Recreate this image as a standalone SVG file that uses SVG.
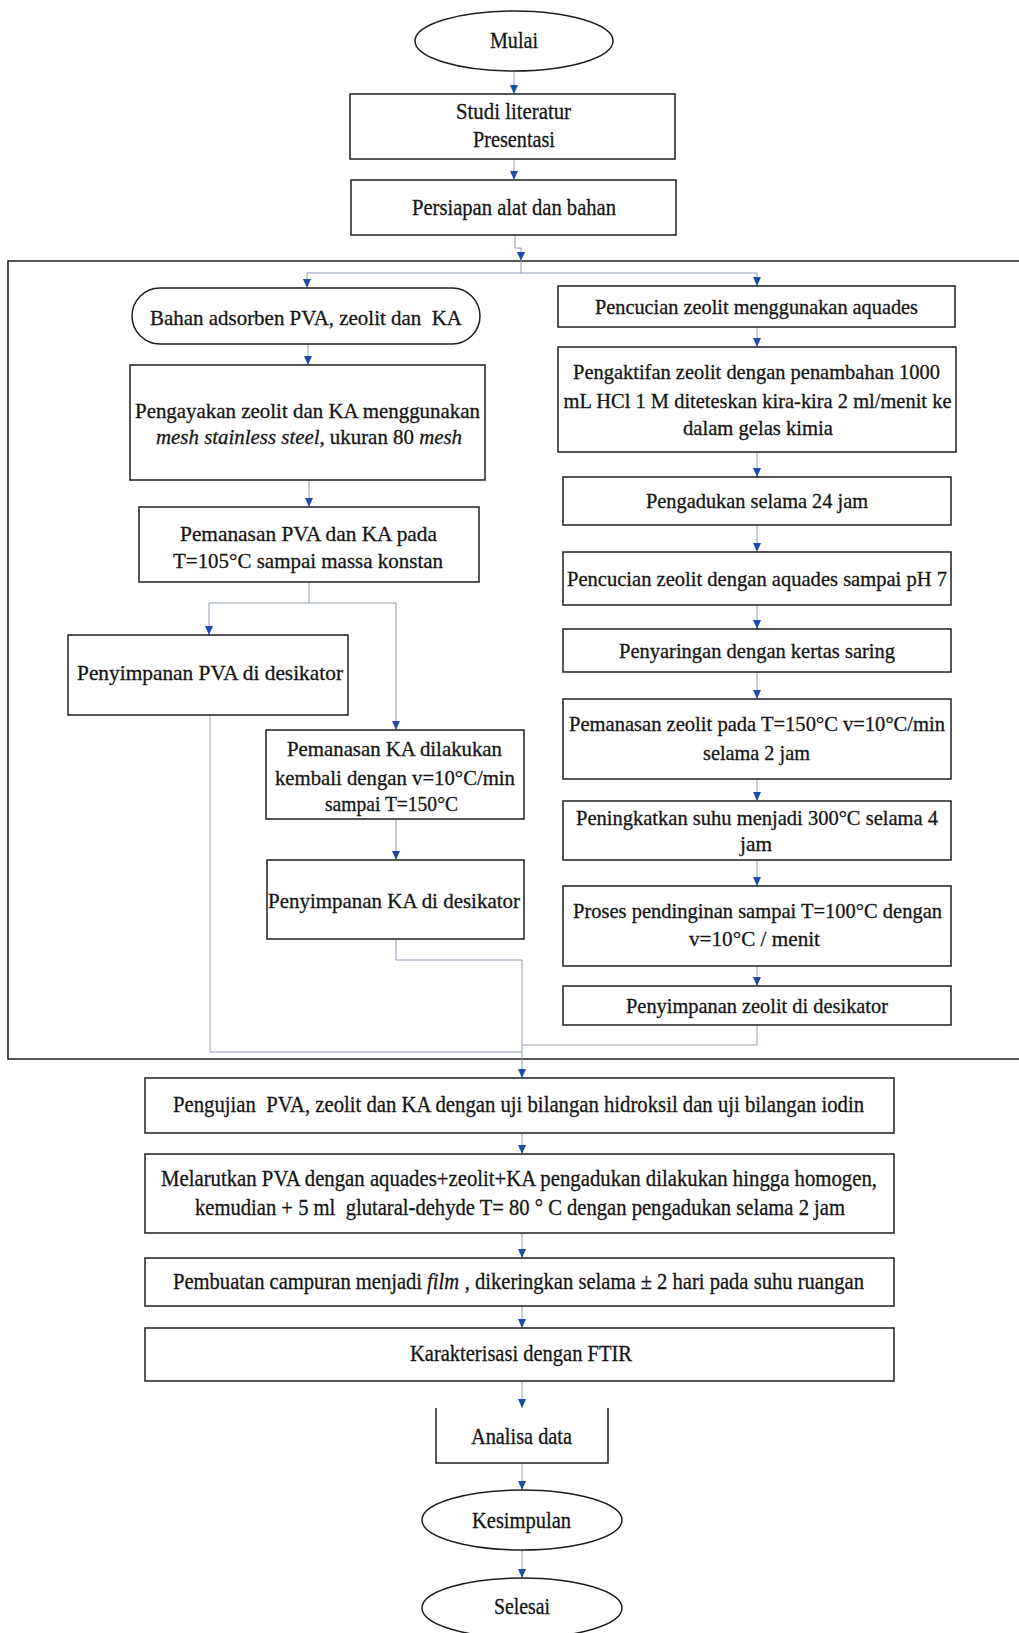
<svg xmlns="http://www.w3.org/2000/svg" width="1019" height="1633" viewBox="0 0 1019 1633">
<style>
.box{fill:none;stroke:#1e1e1e;stroke-width:1.5}
.frame{fill:none;stroke:#1e1e1e;stroke-width:1.6}
.c{fill:none;stroke:#8e9bb3;stroke-width:1}
.t{font-family:"Liberation Serif","Times New Roman",serif;font-size:22px;fill:#141414;stroke:#141414;stroke-width:0.3;text-anchor:middle;dominant-baseline:central;white-space:pre}
.big{font-size:23.5px}
.s{text-anchor:start}
.i{font-style:italic}
</style>
<defs>
<marker id="ah" markerUnits="userSpaceOnUse" markerWidth="10" markerHeight="10" refX="9" refY="4.5" orient="auto">
<path d="M0,0.5 L9,4.5 L0,8.5 z" fill="#1f4aa5"/>
</marker>
</defs>
<rect width="1019" height="1633" fill="#ffffff"/>
<path class="frame" d="M1019,261 L8,261 L8,1059 L1019,1059"/>

<g id="connectors">
<path class="c" d="M514,71 L514,94" marker-end="url(#ah)"/>
<path class="c" d="M514,159 L514,180" marker-end="url(#ah)"/>
<path class="c" d="M515,235 L515,248 L521,248 L521,261" marker-end="url(#ah)"/>
<path class="c" d="M521,261 L521,273"/>
<path class="c" d="M307,273 L757,273"/>
<path class="c" d="M307,273 L307,288" marker-end="url(#ah)"/>
<path class="c" d="M757,273 L757,286" marker-end="url(#ah)"/>
<path class="c" d="M308,344 L308,365" marker-end="url(#ah)"/>
<path class="c" d="M309,480 L309,507" marker-end="url(#ah)"/>
<path class="c" d="M309,582 L309,603 M209,603 L396,603"/>
<path class="c" d="M209,603 L209,635" marker-end="url(#ah)"/>
<path class="c" d="M396,603 L396,730" marker-end="url(#ah)"/>
<path class="c" d="M396,819 L396,860" marker-end="url(#ah)"/>
<path class="c" d="M396,939 L396,960 L522,960 L522,1060"/>
<path class="c" d="M210,715 L210,1052 L522,1052"/>
<path class="c" d="M757,1025 L757,1045 L522,1045"/>
<path class="c" d="M522,1060 L522,1078" marker-end="url(#ah)"/>
<path class="c" d="M757,327 L757,347" marker-end="url(#ah)"/>
<path class="c" d="M757,452 L757,477" marker-end="url(#ah)"/>
<path class="c" d="M757,525 L757,552" marker-end="url(#ah)"/>
<path class="c" d="M757,605 L757,629" marker-end="url(#ah)"/>
<path class="c" d="M757,672 L757,699" marker-end="url(#ah)"/>
<path class="c" d="M757,779 L757,801" marker-end="url(#ah)"/>
<path class="c" d="M757,860 L757,886" marker-end="url(#ah)"/>
<path class="c" d="M757,966 L757,986" marker-end="url(#ah)"/>
<path class="c" d="M522,1133 L522,1154" marker-end="url(#ah)"/>
<path class="c" d="M522,1233 L522,1258" marker-end="url(#ah)"/>
<path class="c" d="M522,1306 L522,1328" marker-end="url(#ah)"/>
<path class="c" d="M522,1381 L522,1408" marker-end="url(#ah)"/>
<path class="c" d="M522,1463 L522,1490" marker-end="url(#ah)"/>
<path class="c" d="M522,1550 L522,1578" marker-end="url(#ah)"/>
</g>

<g id="mulai"><ellipse class="box" cx="514" cy="41" rx="99" ry="30"/><text class="t big" x="514" y="40" textLength="48" lengthAdjust="spacingAndGlyphs">Mulai</text></g>
<g id="studi"><rect class="box" x="350" y="94" width="325" height="65"/><text class="t big" x="513.5" y="111" textLength="115" lengthAdjust="spacingAndGlyphs">Studi literatur</text><text class="t big" x="514" y="139" textLength="82" lengthAdjust="spacingAndGlyphs">Presentasi</text></g>
<g id="persiapan"><rect class="box" x="351" y="180" width="325" height="55"/><text class="t big" x="514" y="207" textLength="204" lengthAdjust="spacingAndGlyphs">Persiapan alat dan bahan</text></g>

<g id="bahan"><rect class="box" x="132" y="288" width="348" height="56" rx="28"/><text class="t" x="306" y="317" textLength="312" lengthAdjust="spacingAndGlyphs">Bahan adsorben PVA, zeolit dan  KA</text></g>
<g id="pengayakan"><rect class="box" x="130" y="365" width="355" height="115"/><text class="t" x="307.5" y="410" textLength="345" lengthAdjust="spacingAndGlyphs">Pengayakan zeolit dan KA menggunakan</text>
<g transform="translate(156,437) scale(0.95,1)"><text class="t s i" x="0" y="0">mesh stainless steel,</text><text class="t s" x="183" y="0">ukuran 80</text><text class="t s i" x="277" y="0">mesh</text></g></g>
<g id="pemanasan-pva"><rect class="box" x="139" y="507" width="340" height="75"/><text class="t" x="308.5" y="533" textLength="257" lengthAdjust="spacingAndGlyphs">Pemanasan PVA dan KA pada</text><text class="t" x="308" y="560" textLength="270" lengthAdjust="spacingAndGlyphs">T=105°C sampai massa konstan</text></g>
<g id="penyimpanan-pva"><rect class="box" x="68" y="635" width="280" height="80"/><text class="t" x="210" y="672" textLength="266" lengthAdjust="spacingAndGlyphs">Penyimpanan PVA di desikator</text></g>
<g id="pemanasan-ka"><rect class="box" x="266" y="730" width="258" height="89"/><text class="t" x="394.5" y="748" textLength="215" lengthAdjust="spacingAndGlyphs">Pemanasan KA dilakukan</text><text class="t" x="395" y="777" textLength="240" lengthAdjust="spacingAndGlyphs">kembali dengan v=10°C/min</text><text class="t" x="391.5" y="803" textLength="133" lengthAdjust="spacingAndGlyphs">sampai T=150°C</text></g>
<g id="penyimpanan-ka"><rect class="box" x="267" y="860" width="257" height="79"/><text class="t" x="394" y="900" textLength="252" lengthAdjust="spacingAndGlyphs">Penyimpanan KA di desikator</text></g>

<g id="pencucian"><rect class="box" x="558" y="286" width="397" height="41"/><text class="t" x="756.5" y="306" textLength="323" lengthAdjust="spacingAndGlyphs">Pencucian zeolit menggunakan aquades</text></g>
<g id="pengaktifan"><rect class="box" x="558" y="347" width="398" height="105"/><text class="t" x="756.5" y="371" textLength="367" lengthAdjust="spacingAndGlyphs">Pengaktifan zeolit dengan penambahan 1000</text><text class="t" x="757.5" y="400" textLength="388" lengthAdjust="spacingAndGlyphs">mL HCl 1 M diteteskan kira-kira 2 ml/menit ke</text><text class="t" x="758" y="427" textLength="150" lengthAdjust="spacingAndGlyphs">dalam gelas kimia</text></g>
<g id="pengadukan"><rect class="box" x="563" y="477" width="388" height="48"/><text class="t" x="757" y="500" textLength="222" lengthAdjust="spacingAndGlyphs">Pengadukan selama 24 jam</text></g>
<g id="pencucian-ph7"><rect class="box" x="563" y="552" width="388" height="53"/><text class="t" x="757" y="578" textLength="380" lengthAdjust="spacingAndGlyphs">Pencucian zeolit dengan aquades sampai pH 7</text></g>
<g id="penyaringan"><rect class="box" x="563" y="629" width="388" height="43"/><text class="t" x="757" y="650" textLength="276" lengthAdjust="spacingAndGlyphs">Penyaringan dengan kertas saring</text></g>
<g id="pemanasan-zeolit"><rect class="box" x="563" y="699" width="388" height="80"/><text class="t" x="757" y="723" textLength="376" lengthAdjust="spacingAndGlyphs">Pemanasan zeolit pada T=150°C v=10°C/min</text><text class="t" x="756.5" y="752" textLength="107" lengthAdjust="spacingAndGlyphs">selama 2 jam</text></g>
<g id="peningkatkan"><rect class="box" x="563" y="801" width="388" height="59"/><text class="t" x="757" y="817" textLength="362" lengthAdjust="spacingAndGlyphs">Peningkatkan suhu menjadi 300°C selama 4</text><text class="t" x="756" y="843" textLength="32" lengthAdjust="spacingAndGlyphs">jam</text></g>
<g id="pendinginan"><rect class="box" x="563" y="886" width="388" height="80"/><text class="t" x="757.5" y="910" textLength="369" lengthAdjust="spacingAndGlyphs">Proses pendinginan sampai T=100°C dengan</text><text class="t" x="754.5" y="938" textLength="131" lengthAdjust="spacingAndGlyphs">v=10°C / menit</text></g>
<g id="penyimpanan-zeolit"><rect class="box" x="563" y="986" width="388" height="39"/><text class="t" x="757" y="1005" textLength="262" lengthAdjust="spacingAndGlyphs">Penyimpanan zeolit di desikator</text></g>

<g id="pengujian"><rect class="box" x="145" y="1078" width="749" height="55"/><text class="t big" x="518.5" y="1104" textLength="691" lengthAdjust="spacingAndGlyphs">Pengujian  PVA, zeolit dan KA dengan uji bilangan hidroksil dan uji bilangan iodin</text></g>
<g id="melarutkan"><rect class="box" x="145" y="1154" width="749" height="79"/><text class="t big" x="519" y="1178" textLength="716" lengthAdjust="spacingAndGlyphs">Melarutkan PVA dengan aquades+zeolit+KA pengadukan dilakukan hingga homogen,</text><text class="t big" x="520" y="1207" textLength="650" lengthAdjust="spacingAndGlyphs">kemudian + 5 ml  glutaral-dehyde T= 80 ° C dengan pengadukan selama 2 jam</text></g>
<g id="pembuatan"><rect class="box" x="145" y="1258" width="749" height="48"/>
<g transform="translate(173,1281) scale(0.876,1)"><text class="t big s" x="0" y="0">Pembuatan campuran menjadi</text><text class="t big s i" x="290" y="0">film</text><text class="t big s" x="333" y="0">, dikeringkan selama ± 2 hari pada suhu ruangan</text></g></g>
<g id="karakterisasi"><rect class="box" x="145" y="1328" width="749" height="53"/><text class="t big" x="521" y="1353" textLength="222" lengthAdjust="spacingAndGlyphs">Karakterisasi dengan FTIR</text></g>
<g id="analisa"><path class="box" d="M436,1408 L436,1463 L608,1463 L608,1408"/><text class="t big" x="521.5" y="1436" textLength="101" lengthAdjust="spacingAndGlyphs">Analisa data</text></g>
<g id="kesimpulan"><ellipse class="box" cx="522" cy="1520" rx="100" ry="30"/><text class="t big" x="521.5" y="1520" textLength="99" lengthAdjust="spacingAndGlyphs">Kesimpulan</text></g>
<g id="selesai"><ellipse class="box" cx="522" cy="1608" rx="100" ry="30"/><text class="t big" x="522" y="1606" textLength="56" lengthAdjust="spacingAndGlyphs">Selesai</text></g>
</svg>
